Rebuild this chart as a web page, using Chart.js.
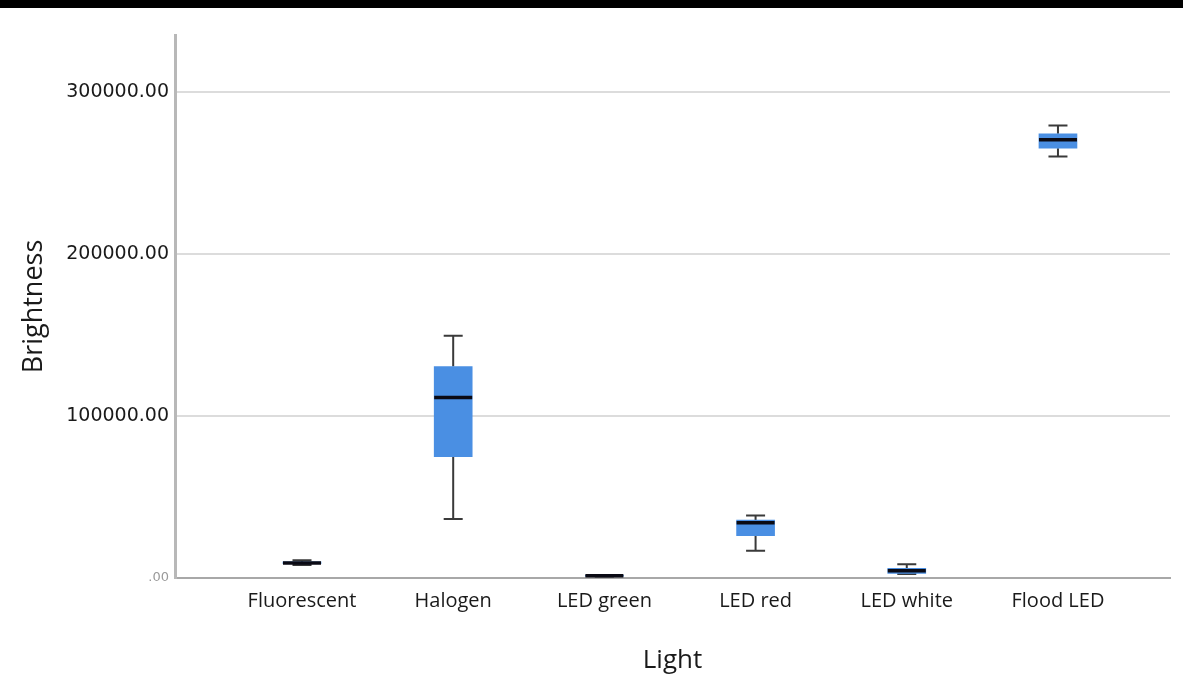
<!DOCTYPE html>
<html>
<head>
<meta charset="utf-8">
<script src="https://cdn.jsdelivr.net/npm/chart.js@4.4.1/dist/chart.umd.min.js"></script>
<style>
  html, body { margin: 0; padding: 0; background: #fff; }
  #wrap { position: relative; width: 1183px; height: 700px; }
  #topbar { position: absolute; left: 0; top: 0; width: 1183px; height: 8px; background: #000; z-index: 2; }
  canvas { position: absolute; left: 0; top: 0; }
</style>
</head>
<body>
<div id="wrap">
  <div id="topbar"></div>
  <canvas id="c" width="1183" height="700"></canvas>
</div>
<script>
const categories = ['Fluorescent', 'Halogen', 'LED green', 'LED red', 'LED white', 'Flood LED'];
const whiskerLow  = [8000,  36400,  900,  16800, 2500, 260000];
const q1Values    = [8800,  74900,  1100, 26100, 2900, 265200];
const medians     = [9300,  111300, 1400, 34100, 4500, 270400];
const q3Values    = [10000, 130500, 1700, 35800, 6000, 274000];
const whiskerHigh = [10900, 149400, 1900, 38500, 8500, 279200];
const yTickValues = [0, 100000, 200000, 300000];

const boxData = categories.map((c, i) => ({ x: i, y: [q1Values[i], q3Values[i]] }));

const whiskerPlugin = {
  id: 'whiskers',
  beforeDatasetsDraw(chart) {
    const { ctx, scales: { x, y } } = chart;
    ctx.save();
    ctx.strokeStyle = '#3a3a3a';
    ctx.lineWidth = 2;
    categories.forEach((c, i) => {
      const px = x.getPixelForValue(i);
      const yl = y.getPixelForValue(whiskerLow[i]);
      const yh = y.getPixelForValue(whiskerHigh[i]);
      const y1 = y.getPixelForValue(q1Values[i]);
      const y3 = y.getPixelForValue(q3Values[i]);
      ctx.beginPath();
      ctx.moveTo(px, yh); ctx.lineTo(px, y3);
      ctx.moveTo(px, y1); ctx.lineTo(px, yl);
      ctx.moveTo(px - 9.5, yh); ctx.lineTo(px + 9.5, yh);
      ctx.moveTo(px - 9.5, yl); ctx.lineTo(px + 9.5, yl);
      ctx.stroke();
    });
    ctx.restore();
  },
  afterDatasetsDraw(chart) {
    const { ctx, scales: { x, y } } = chart;
    ctx.save();
    ctx.strokeStyle = '#0a0a14';
    ctx.lineWidth = 3.5;
    categories.forEach((c, i) => {
      const px = x.getPixelForValue(i);
      const ym = y.getPixelForValue(medians[i]);
      ctx.beginPath();
      ctx.moveTo(px - 19, ym); ctx.lineTo(px + 19, ym);
      ctx.stroke();
    });
    ctx.restore();
  }
};

new Chart(document.getElementById('c'), {
  type: 'bar',
  data: {
    datasets: [{
      data: boxData,
      backgroundColor: '#4a8fe3',
      borderWidth: 0,
      barThickness: 38
    }]
  },
  options: {
    responsive: false,
    animation: false,
    layout: { padding: { top: 35, right: 13, bottom: 0, left: 0 } },
    plugins: { legend: { display: false }, tooltip: { enabled: false } },
    scales: {
      x: {
        type: 'linear',
        offset: false,
        min: -0.84,
        max: 5.741,
        afterBuildTicks: (s) => { s.ticks = categories.map((c, i) => ({ value: i })); },
        afterFit: (s) => { s.height = 122; },
        ticks: {
          callback: (v) => categories[v] ?? '',
          font: { family: 'Open Sans', size: 20 },
          color: '#1a1a1a',
          padding: 11,
          maxRotation: 0,
          autoSkip: false
        },
        grid: { display: false, drawTicks: false, offset: false },
        border: { color: '#a8a8a8', width: 2 },
        title: {
          display: true,
          text: 'Light',
          font: { family: 'Open Sans', size: 26 },
          color: '#1a1a1a',
          padding: { top: 4, bottom: 24 }
        }
      },
      y: {
        min: 0,
        max: 335000,
        afterBuildTicks: (s) => { s.ticks = yTickValues.map(v => ({ value: v })); },
        afterFit: (s) => { s.width = 175; },
        ticks: {
          callback: (v) => v === 0 ? '.00' : v.toFixed(2),
          font: (ctx) => ({ family: 'DejaVu Sans', size: ctx.tick && ctx.tick.value === 0 ? 13 : 19 }),
          color: (ctx) => ctx.tick && ctx.tick.value === 0 ? '#9a9a9a' : '#1a1a1a',
          padding: 6
        },
        grid: { color: '#dcdcdc', lineWidth: 2, drawTicks: false },
        border: { color: '#b8b8b8', width: 3 },
        title: {
          display: true,
          text: 'Brightness',
          font: { family: 'Open Sans', size: 27 },
          color: '#1a1a1a',
          padding: { top: 18, bottom: 4 }
        }
      }
    }
  },
  plugins: [whiskerPlugin]
});
</script>
</body>
</html>
